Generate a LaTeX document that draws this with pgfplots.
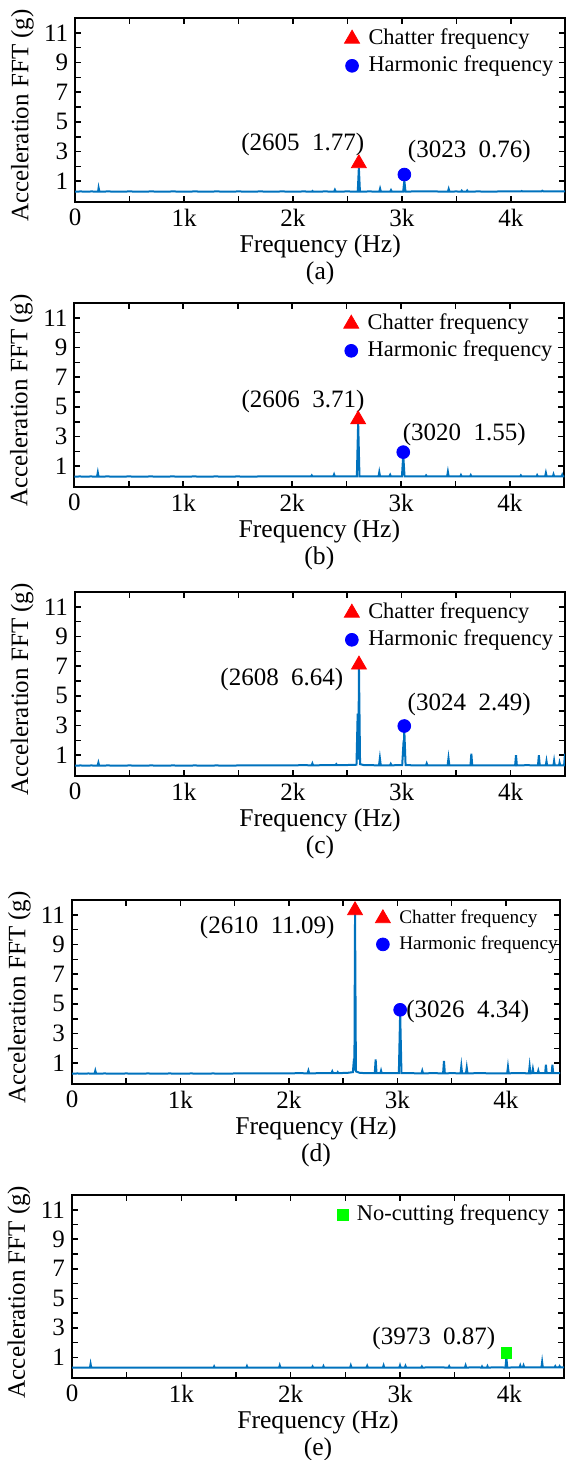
\documentclass[border=0pt]{standalone}
\usepackage{fontspec}
\setmainfont{Liberation Serif}
\usepackage{pgfplots}
\pgfplotsset{compat=1.18}
\definecolor{lineblue}{RGB}{0,114,189}
\definecolor{mkgreen}{RGB}{0,255,0}
\tikzset{ann/.style={font=\fontsize{12.5}{13}\selectfont, anchor=center}}
\pgfplotsset{
 fftaxis/.style={
  scale only axis, width=245pt, height=92pt,
  xmin=0, xmax=4500, ymin=-0.4, ymax=12,
  xtick={0,1000,2000,3000,4000}, xticklabels={0,1k,2k,3k,4k},
  minor xtick={500,1500,2500,3500},
  ytick={1,3,5,7,9,11}, minor ytick={2,4,6,8,10},
  tick align=inside, xtick pos=both, ytick pos=both,
  xticklabel pos=lower, yticklabel pos=left,
  major tick length=3pt, minor tick length=3pt,
  every tick/.style={black, line width=0.8pt},
  axis line style={line width=1pt},
  tick label style={font=\fontsize{12.5}{13}\selectfont},
  /pgf/number format/assume math mode=true,
  ylabel={Acceleration FFT (g)},
  ylabel style={font=\fontsize{12.5}{14}\selectfont, at={(axis description cs:-0.108,0.47)}, anchor=center},
  xlabel style={font=\fontsize{12.8}{13.5}\selectfont, align=center, at={(axis description cs:0.5,0)}, anchor=north, yshift=-13pt},
  legend style={draw=none, fill=none, font=\fontsize{11.2}{11.2}\selectfont, anchor=north west, inner sep=0pt, row sep=1pt, column sep=3.5pt, nodes={inner sep=1pt, text height=8pt, text depth=2.5pt}},
  legend cell align=left,
  legend image code/.code={\draw[##1] plot coordinates {(0cm,0cm)};},
 },
 spec/.style={lineblue, line width=1pt, forget plot},
 chat/.style={only marks, mark=triangle*, mark size=4.3pt, color=red, mark options={fill=red, draw=red}},
 harm/.style={only marks, mark=*, mark size=3.2pt, color=blue, mark options={fill=blue, draw=blue}},
 nocut/.style={only marks, mark=square*, mark size=2.6pt, color=mkgreen, mark options={fill=mkgreen, draw=mkgreen}},
}
\begin{document}
\begin{tikzpicture}
\useasboundingbox (0,0) rectangle (283.5pt,-730pt);

% (a)
\begin{axis}[fftaxis, at={(37.6pt,-9pt)}, anchor=north west, xlabel={Frequency (Hz)\\(a)},
  legend style={at={(axis description cs:0.549,0.957)}}]
\addplot[spec] coordinates {(0,0.30)(50,0.31)(100,0.30)(150,0.31)(200,0.30)(210,0.30)(215,0.55)(222,0.30)(300,0.31)(400,0.30)(500,0.31)(600,0.30)(700,0.31)(800,0.30)(900,0.31)(1000,0.30)(1100,0.31)(1200,0.30)(1300,0.31)(1400,0.30)(1500,0.31)(1600,0.30)(1700,0.31)(1800,0.30)(1900,0.31)(2000,0.30)(2100,0.31)(2175,0.30)(2180,0.34)(2186,0.30)(2300,0.31)(2378,0.30)(2385,0.42)(2392,0.30)(2500,0.31)(2595,0.30)(2605,1.90)(2615,0.30)(2700,0.31)(2793,0.30)(2800,0.50)(2807,0.30)(2893,0.30)(2900,0.40)(2907,0.30)(3012,0.30)(3023,1.05)(3033,0.30)(3100,0.31)(3200,0.32)(3300,0.31)(3423,0.30)(3430,0.48)(3437,0.30)(3500,0.31)(3545,0.30)(3550,0.36)(3556,0.30)(3595,0.30)(3600,0.37)(3606,0.30)(3700,0.31)(3800,0.30)(3900,0.31)(4000,0.31)(4095,0.31)(4100,0.34)(4110,0.31)(4200,0.31)(4280,0.31)(4290,0.36)(4300,0.31)(4400,0.32)(4500,0.31)};
\addplot[chat] coordinates {(2605,2.2)}; \addlegendentry{Chatter frequency}
\addplot[harm] coordinates {(3023,1.45)}; \addlegendentry{Harmonic frequency}
\node[ann] at (axis cs:2090,3.47) {(2605\ \ 1.77)};
\node[ann] at (axis cs:3620,3.0) {(3023\ \ 0.76)};
\end{axis}

% (b)
\begin{axis}[fftaxis, at={(37.2pt,-151.5pt)}, anchor=north west, xlabel={Frequency (Hz)\\(b)},
  legend style={at={(axis description cs:0.549,0.957)}}]
\addplot[spec] coordinates {(0,0.30)(50,0.31)(100,0.30)(150,0.31)(208,0.30)(215,0.58)(222,0.30)(300,0.31)(400,0.30)(500,0.31)(600,0.30)(700,0.31)(800,0.30)(900,0.31)(1000,0.30)(1100,0.31)(1200,0.30)(1300,0.31)(1400,0.30)(1500,0.31)(1600,0.30)(1700,0.31)(1800,0.31)(1900,0.31)(2000,0.31)(2100,0.32)(2174,0.31)(2180,0.38)(2186,0.31)(2300,0.32)(2378,0.31)(2385,0.45)(2392,0.31)(2500,0.32)(2594,0.31)(2606,3.95)(2618,0.31)(2700,0.32)(2793,0.31)(2800,0.60)(2807,0.31)(2893,0.31)(2900,0.42)(2907,0.31)(3008,0.31)(3020,1.75)(3032,0.31)(3100,0.32)(3224,0.31)(3230,0.38)(3236,0.31)(3330,0.32)(3423,0.31)(3430,0.62)(3437,0.31)(3500,0.32)(3545,0.31)(3550,0.40)(3556,0.31)(3634,0.31)(3640,0.40)(3646,0.31)(3800,0.32)(3950,0.31)(4094,0.31)(4100,0.38)(4106,0.31)(4200,0.32)(4244,0.31)(4250,0.40)(4256,0.31)(4323,0.31)(4330,0.55)(4337,0.31)(4394,0.31)(4400,0.45)(4406,0.31)(4474,0.31)(4480,0.42)(4486,0.31)(4500,0.31)};
\addplot[chat] coordinates {(2606,4.15)}; \addlegendentry{Chatter frequency}
\addplot[harm] coordinates {(3020,1.95)}; \addlegendentry{Harmonic frequency}
\node[ann] at (axis cs:2100,5.38) {(2606\ \ 3.71)};
\node[ann] at (axis cs:3580,3.17) {(3020\ \ 1.55)};
\end{axis}

% (c)
\begin{axis}[fftaxis, at={(37.5pt,-296pt)}, anchor=north west, xlabel={Frequency (Hz)\\(c)},
  legend style={at={(axis description cs:0.549,0.957)}}]
\addplot[spec] coordinates {(0,0.30)(50,0.31)(100,0.30)(150,0.31)(208,0.30)(215,0.50)(222,0.30)(300,0.31)(400,0.30)(500,0.31)(600,0.30)(700,0.31)(800,0.30)(900,0.31)(1000,0.30)(1100,0.31)(1200,0.30)(1300,0.31)(1400,0.30)(1500,0.31)(1600,0.31)(1700,0.31)(1800,0.31)(1900,0.32)(2000,0.32)(2100,0.33)(2173,0.32)(2180,0.45)(2187,0.32)(2300,0.33)(2393,0.33)(2400,0.40)(2407,0.33)(2500,0.34)(2585,0.36)(2596,3.80)(2602,0.70)(2608,6.80)(2618,0.40)(2650,0.34)(2700,0.33)(2792,0.32)(2800,0.80)(2808,0.32)(2893,0.32)(2900,0.42)(2907,0.32)(3005,0.34)(3018,2.00)(3021,0.9)(3024,2.75)(3036,0.34)(3100,0.32)(3223,0.31)(3230,0.45)(3237,0.31)(3330,0.32)(3422,0.31)(3430,0.80)(3438,0.31)(3530,0.32)(3632,0.31)(3640,1.10)(3648,0.31)(3750,0.32)(3900,0.31)(4042,0.31)(4050,1.00)(4058,0.31)(4150,0.33)(4252,0.31)(4260,1.00)(4268,0.31)(4324,0.32)(4330,0.60)(4336,0.32)(4394,0.32)(4400,0.62)(4406,0.32)(4445,0.32)(4450,0.50)(4456,0.32)(4492,0.32)(4500,1.10)};
\addplot[chat] coordinates {(2608,7.1)}; \addlegendentry{Chatter frequency}
\addplot[harm] coordinates {(3024,2.97)}; \addlegendentry{Harmonic frequency}
\node[ann] at (axis cs:1900,6.11) {(2608\ \ 6.64)};
\node[ann] at (axis cs:3620,4.41) {(3024\ \ 2.49)};
\end{axis}

% (d)
\begin{axis}[fftaxis, width=244pt, at={(36pt,-450pt)}, anchor=north west, xlabel={Frequency (Hz)\\(d)},
  legend style={at={(axis description cs:0.621,0.962)}, font=\fontsize{9.6}{9.6}\selectfont, row sep=2pt, nodes={inner sep=1pt, text height=7pt, text depth=2pt}}]
\addplot[spec] coordinates {(0,0.30)(50,0.31)(100,0.30)(150,0.31)(208,0.30)(215,0.50)(222,0.30)(300,0.31)(400,0.30)(500,0.31)(600,0.30)(700,0.31)(800,0.30)(900,0.31)(1000,0.30)(1100,0.31)(1200,0.30)(1300,0.31)(1400,0.30)(1500,0.31)(1600,0.31)(1700,0.31)(1800,0.31)(1900,0.32)(2000,0.32)(2100,0.33)(2173,0.32)(2180,0.50)(2187,0.32)(2300,0.33)(2393,0.33)(2400,0.45)(2407,0.33)(2444,0.33)(2450,0.40)(2456,0.33)(2550,0.36)(2590,0.40)(2600,1.30)(2604,0.50)(2610,11.10)(2618,0.45)(2650,0.36)(2700,0.33)(2792,0.33)(2800,1.25)(2808,0.33)(2844,0.33)(2850,0.50)(2856,0.33)(2950,0.34)(3014,0.34)(3026,4.40)(3038,0.34)(3100,0.33)(3223,0.32)(3230,0.50)(3237,0.32)(3330,0.33)(3422,0.32)(3430,1.15)(3438,0.32)(3500,0.33)(3583,0.32)(3590,0.80)(3597,0.32)(3633,0.32)(3640,0.70)(3647,0.32)(3750,0.33)(3900,0.32)(4013,0.32)(4020,0.75)(4027,0.32)(4100,0.34)(4213,0.32)(4220,0.80)(4227,0.32)(4244,0.33)(4250,0.60)(4256,0.33)(4294,0.33)(4300,0.50)(4306,0.33)(4363,0.33)(4370,0.90)(4377,0.33)(4423,0.33)(4430,0.90)(4437,0.33)(4500,0.33)};
\addplot[chat] coordinates {(2610,11.3)}; \addlegendentry{Chatter frequency}
\addplot[harm] coordinates {(3026,4.6)}; \addlegendentry{Harmonic frequency}
\node[ann] at (axis cs:1800,10.17) {(2610\ \ 11.09)};
\node[ann] at (axis cs:3650,4.49) {(3026\ \ 4.34)};
\end{axis}

% (e)
\begin{axis}[fftaxis, width=246pt, height=91.5pt, at={(36pt,-597.5pt)}, anchor=north west, xlabel={Frequency (Hz)\\(e)},
  legend style={at={(axis description cs:0.539,0.962)}}]
\addplot[spec] coordinates {(0,0.30)(50,0.31)(100,0.30)(164,0.30)(170,0.55)(176,0.30)(300,0.31)(400,0.30)(500,0.31)(600,0.30)(700,0.31)(800,0.30)(900,0.31)(1000,0.30)(1100,0.31)(1200,0.30)(1295,0.30)(1300,0.38)(1305,0.30)(1400,0.31)(1500,0.30)(1595,0.30)(1600,0.40)(1605,0.30)(1700,0.31)(1800,0.30)(1894,0.30)(1900,0.45)(1906,0.30)(2000,0.31)(2100,0.30)(2195,0.31)(2200,0.38)(2205,0.31)(2295,0.31)(2300,0.40)(2305,0.31)(2400,0.31)(2544,0.31)(2550,0.45)(2556,0.31)(2694,0.31)(2700,0.42)(2706,0.31)(2844,0.31)(2850,0.45)(2856,0.31)(2994,0.31)(3000,0.45)(3006,0.31)(3044,0.31)(3050,0.42)(3056,0.31)(3195,0.31)(3200,0.38)(3205,0.31)(3300,0.32)(3444,0.31)(3450,0.40)(3456,0.31)(3594,0.31)(3600,0.45)(3606,0.31)(3700,0.32)(3745,0.31)(3750,0.38)(3755,0.31)(3795,0.31)(3800,0.40)(3805,0.31)(3900,0.32)(3965,0.31)(3973,1.00)(3981,0.31)(4094,0.32)(4100,0.45)(4106,0.32)(4124,0.32)(4130,0.45)(4136,0.32)(4200,0.32)(4294,0.32)(4300,0.68)(4306,0.32)(4414,0.32)(4420,0.40)(4426,0.32)(4454,0.32)(4460,0.40)(4466,0.32)(4500,0.32)};
\addplot[nocut] coordinates {(3973,1.3)}; \addlegendentry{No-cutting frequency}
\node[ann] at (axis cs:3310,2.26) {(3973\ \ 0.87)};
\end{axis}
\end{tikzpicture}
\end{document}
